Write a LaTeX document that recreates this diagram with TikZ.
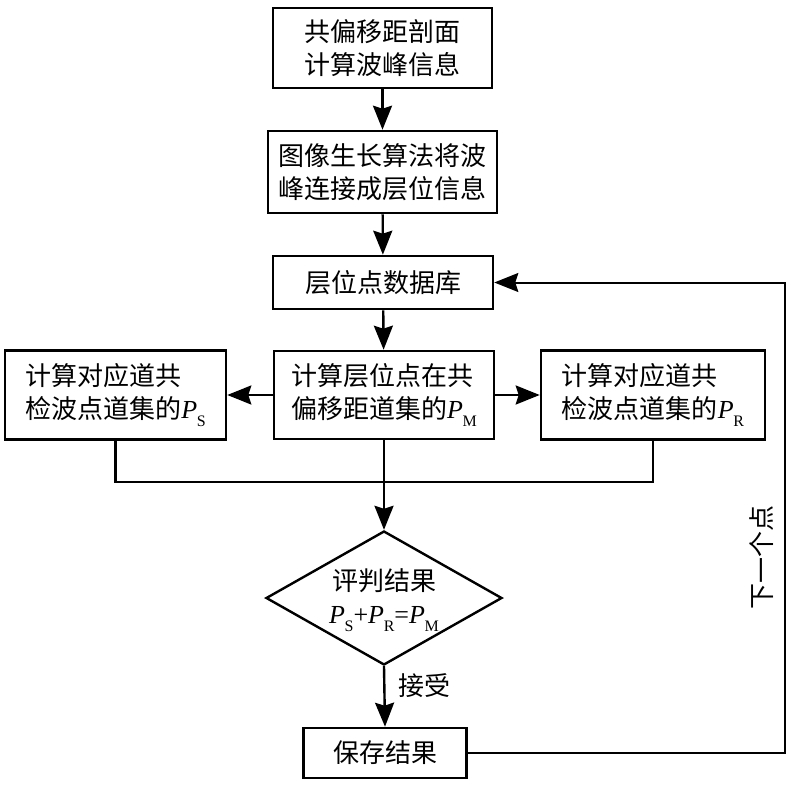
\documentclass[tikz,border=0pt]{standalone}
\usepackage{fontspec}
\setmainfont{Liberation Serif}
\newfontfamily\cjk{Noto Sans CJK SC}
\usetikzlibrary{arrows.meta,shapes.geometric}
\newcommand\Psub[1]{\textit{P}\kern-0.3pt\raisebox{-0.28em}{\fontsize{16}{16}\selectfont #1}}
\begin{document}
\begin{tikzpicture}[x=1pt,y=-1pt,
  every node/.style={font=\fontsize{26}{33}\selectfont\cjk, align=center, inner sep=0pt},
  box/.style={draw, line width=2.6pt, rectangle},
  lbox/.style={box, align=left},
  conn/.style={line width=2.4pt},
  arr/.style={line width=2.4pt, -{Stealth[length=24pt,width=19pt,inset=3pt]}},
  fb/.style={line width=2pt, -{Stealth[length=24pt,width=19pt,inset=3pt]}}]
\useasboundingbox (0,0) rectangle (800,786);
\node[box, minimum width=219pt, minimum height=80pt] (b1) at (382.5,48) {共偏移距剖面\\计算波峰信息};
\node[box, minimum width=229pt, minimum height=82pt] (b2) at (382.5,172) {图像生长算法将波\\峰连接成层位信息};
\node[box, minimum width=220pt, minimum height=53pt] (db) at (383,282.5) {层位点数据库};
\node[lbox, minimum width=220pt, minimum height=88pt] (mid) at (384,395) {计算层位点在共\\偏移距道集的{\rmfamily\Psub{M}}};
\node[lbox, minimum width=221pt, minimum height=89pt] (lft) at (115.5,395) {计算对应道共\\检波点道集的{\rmfamily\Psub{S}}};
\node[lbox, minimum width=224pt, minimum height=89pt] (rgt) at (653,395) {计算对应道共\\检波点道集的{\rmfamily\Psub{R}}};
\node[draw, diamond, line width=2.4pt, minimum width=236pt, minimum height=134pt] (dia) at (384,598) {};
\node (diat) at (384,600) {评判结果\\{\rmfamily\Psub{S}+\Psub{R}=\Psub{M}}};
\node[box, minimum width=163pt, minimum height=50pt] (save) at (385,753) {保存结果};
\node (acc) at (424,686) {接受};
\node[rotate=90] (next) at (762,557) {下一个点};
\coordinate (mj) at (384,482);
\coordinate (fbc) at (785,282.5);
\draw[arr] (b1) -- (b2);
\draw[arr] (b2) -- (db);
\draw[arr] (db) -- (mid);
\draw[arr] (mid.west) -- (lft.east);
\draw[arr] (mid.east) -- (rgt.west);
\draw[conn] (lft.south) |- (mj) -| (rgt.south);
\draw[arr] (mid.south) -- (dia.north);
\draw[arr] (dia.south) -- (save.north);
\draw[fb] (save.east) -| (fbc) -- (db.east);
\end{tikzpicture}
\end{document}
